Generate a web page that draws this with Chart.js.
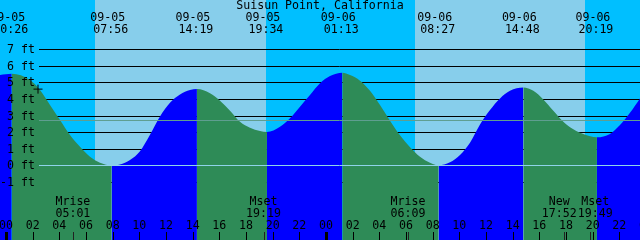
<!DOCTYPE html>
<html>
<head>
<meta charset="utf-8">
<script src="https://cdn.jsdelivr.net/npm/chart.js@4.4.1/dist/chart.umd.min.js"></script>
<style>
  html, body { margin: 0; padding: 0; background: #00bfff; }
  canvas { display: block; }
</style>
</head>
<body>
<canvas id="tide" width="640" height="240"></canvas>
<script>
const title = 'Suisun Point, California';

// hours after 09-05 00:00, and tide height (ft)
const hours = [-0.45, 0.43, 1.8, 2.55, 3.3, 4.05, 4.8, 5.55, 6.3, 7.05, 7.93,
  8.55, 9.3, 10.05, 10.8, 11.55, 12.3, 13.05, 13.8, 14.32,
  15.3, 16.05, 16.8, 17.55, 18.3, 19.05, 19.57,
  20.55, 21.3, 22.05, 22.8, 23.55, 24.3, 25.22,
  25.8, 26.55, 27.3, 28.05, 28.8, 29.55, 30.3, 31.05, 31.8, 32.45,
  33.3, 34.05, 34.8, 35.55, 36.3, 37.05, 37.8, 38.8,
  39.55, 40.3, 41.05, 41.8, 42.55, 43.3, 44.32,
  45.3, 46.05, 46.8, 47.55];
const heights = [5.45, 5.52, 5.15, 4.54, 3.64, 2.73, 1.83, 1.12, 0.52, 0.16, 0.0,
  0.05, 0.32, 0.85, 1.85, 2.95, 3.78, 4.28, 4.54, 4.6,
  4.35, 3.9, 3.3, 2.63, 2.27, 2.07, 2.01,
  2.33, 2.84, 3.54, 4.24, 4.95, 5.39, 5.59,
  5.45, 5.11, 4.5, 3.64, 2.69, 1.81, 1.09, 0.52, 0.16, 0.0,
  0.18, 0.62, 1.36, 2.46, 3.34, 4.04, 4.5, 4.7,
  4.5, 3.98, 3.3, 2.63, 2.17, 1.89, 1.69,
  1.89, 2.43, 3.17, 4.04];

// high / low tide labels along the top
const tideDays = [0, 0, 0, 0, 1, 1, 1, 1];
const tideDates = ['09-05', '09-05', '09-05', '09-05', '09-06', '09-06', '09-06', '09-06'];
const tideTimes = ['00:26', '07:56', '14:19', '19:34', '01:13', '08:27', '14:48', '20:19'];

// moon events along the bottom
const moonDays = [0, 0, 1, 1, 1];
const moonNames = ['Mrise', 'Mset', 'Mrise', 'New', 'Mset'];
const moonTimes = ['05:01', '19:19', '06:09', '17:52', '19:49'];

// daylight
const sunDays = [0, 1];
const sunrises = ['06:40', '06:41'];
const sunsets = ['19:29', '19:26'];

const heightTicks = [7, 6, 5, 4, 3, 2, 1, 0, -1];
const meanLevel = 2.72;
const nowHour = 2.4;
const nowHeight = 4.6;

const NIGHT = '#00bfff';
const DAY = '#87ceeb';
const RISING = '#0000ff';
const FALLING = '#2e8b57';
const FONT = '11.6px "DejaVu Sans Mono", monospace';

function toHours(day, hhmm) {
  const [h, m] = hhmm.split(':').map(Number);
  return day * 24 + h + m / 60;
}

const tidePoints = hours.map((h, i) => ({ x: h, y: heights[i] }));

const tidePlugin = {
  id: 'tideDecor',
  beforeDatasetsDraw(chart) {
    const { ctx, width, height, scales: { x, y } } = chart;
    ctx.save();
    ctx.fillStyle = NIGHT;
    ctx.fillRect(0, 0, width, height);
    ctx.fillStyle = DAY;
    sunDays.forEach((d, i) => {
      const a = x.getPixelForValue(toHours(d, sunrises[i]));
      const b = x.getPixelForValue(toHours(d, sunsets[i]));
      ctx.fillRect(Math.round(a), 0, Math.round(b) - Math.round(a), height);
    });
    // height grid, sits behind the water
    ctx.strokeStyle = '#000';
    ctx.lineWidth = 1;
    heightTicks.forEach(v => {
      const py = Math.round(y.getPixelForValue(v)) + 0.5;
      ctx.beginPath();
      ctx.moveTo(39, py);
      ctx.lineTo(width, py);
      ctx.stroke();
    });
    ctx.restore();
  },
  afterDatasetsDraw(chart) {
    const { ctx, width, scales: { x, y } } = chart;
    ctx.save();
    // datum and mean level lines over the water
    ctx.lineWidth = 1;
    ctx.strokeStyle = '#8fd3ea';
    let py = Math.round(y.getPixelForValue(0)) + 0.5;
    ctx.beginPath(); ctx.moveTo(39, py); ctx.lineTo(width, py); ctx.stroke();
    ctx.strokeStyle = '#5f9e90';
    py = Math.round(y.getPixelForValue(meanLevel)) + 0.5;
    ctx.beginPath(); ctx.moveTo(39, py); ctx.lineTo(width, py); ctx.stroke();

    ctx.fillStyle = '#000';
    ctx.font = FONT;
    ctx.textBaseline = 'middle';

    // height labels
    ctx.textAlign = 'right';
    heightTicks.forEach(v => {
      ctx.fillText(v + ' ft', 35, Math.round(y.getPixelForValue(v)) + 1);
    });

    ctx.textAlign = 'center';
    ctx.fillText(title, 320, 6);

    // tide extremes
    tideTimes.forEach((t, i) => {
      const px = x.getPixelForValue(toHours(tideDays[i], t));
      ctx.fillText(tideDates[i], px - 4, 18);
      ctx.fillText(t, px - 1, 30);
    });

    // moon events, pushed apart when they would overlap
    const mx = moonTimes.map((t, i) => x.getPixelForValue(toHours(moonDays[i], t)));
    const lx = mx.slice();
    for (let i = 1; i < lx.length; i++) {
      const gap = lx[i] - lx[i - 1];
      if (gap < 36) {
        lx[i - 1] -= (36 - gap) / 2;
        lx[i] += (36 - gap) / 2;
      }
    }
    moonNames.forEach((n, i) => {
      ctx.fillText(n, lx[i], 202);
      ctx.fillText(moonTimes[i], lx[i], 214);
    });

    // hour axis
    ctx.strokeStyle = '#000';
    for (let h = 0; h <= 48; h += 2) {
      const px = x.getPixelForValue(h);
      ctx.fillText(String(h % 24).padStart(2, '0'), px, 226);
      if (h % 24 === 0) {
        ctx.fillRect(Math.round(px) - 1, 232, 3, 8);
      } else {
        ctx.beginPath();
        ctx.moveTo(Math.round(px) + 0.5, 232);
        ctx.lineTo(Math.round(px) + 0.5, 240);
        ctx.stroke();
      }
    }
    ctx.strokeStyle = '#222';
    mx.forEach(px => {
      ctx.beginPath();
      ctx.moveTo(Math.round(px) + 0.5, 232);
      ctx.lineTo(Math.round(px) + 0.5, 240);
      ctx.stroke();
    });
    ctx.restore();
  }
};

new Chart(document.getElementById('tide'), {
  type: 'line',
  data: {
    datasets: [
      {
        label: 'Tide',
        data: tidePoints,
        fill: 'start',
        borderWidth: 0,
        borderColor: 'rgba(0,0,0,0)',
        backgroundColor: FALLING,
        pointRadius: 0,
        pointHoverRadius: 0,
        cubicInterpolationMode: 'monotone',
        segment: {
          backgroundColor: c => (c.p1.parsed.y > c.p0.parsed.y ? RISING : FALLING)
        },
        order: 2
      },
      {
        label: 'Now',
        data: [{ x: nowHour, y: nowHeight }],
        showLine: false,
        pointStyle: 'cross',
        pointRadius: 4.5,
        pointHoverRadius: 4.5,
        borderColor: '#000',
        borderWidth: 1,
        order: 1
      }
    ]
  },
  options: {
    responsive: false,
    animation: false,
    devicePixelRatio: 1,
    layout: { padding: 0, autoPadding: false },
    scales: {
      x: { type: 'linear', display: false, min: -0.45, max: 47.55 },
      y: { display: false, min: -4.51, max: 9.98 }
    },
    plugins: {
      legend: { display: false },
      tooltip: { enabled: false }
    }
  },
  plugins: [tidePlugin]
});
</script>
</body>
</html>
